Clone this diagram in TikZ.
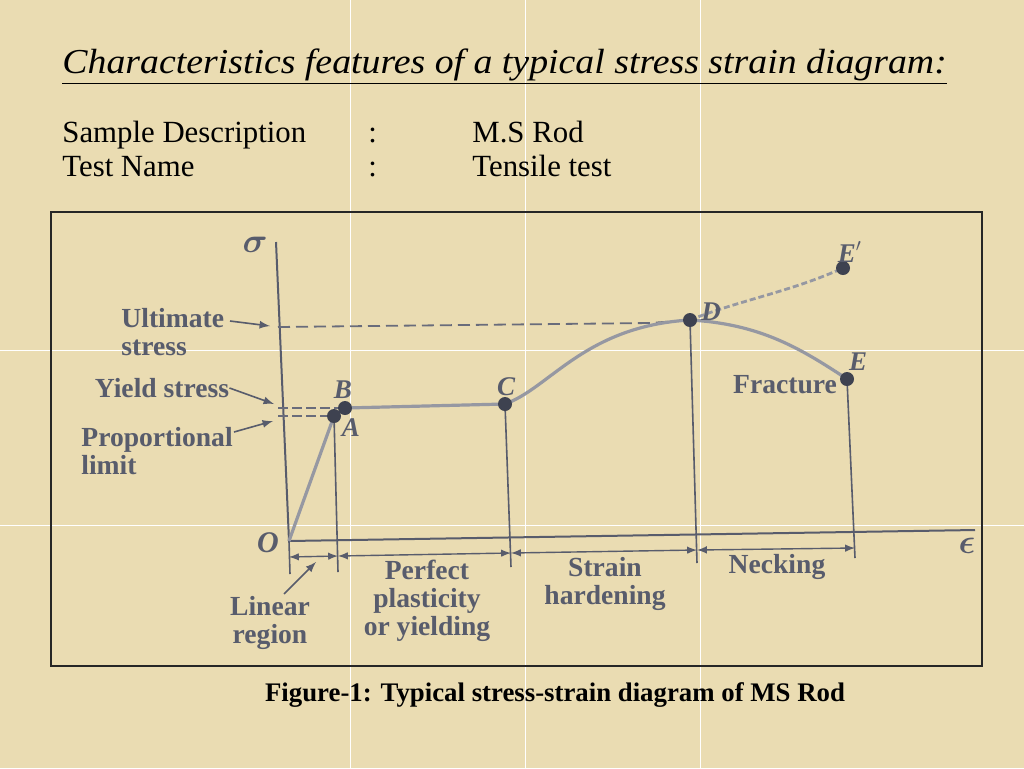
\documentclass[tikz,border=0pt]{standalone}
\usepackage{fontspec}
\setmainfont{Liberation Serif}
\usetikzlibrary{calc}

\definecolor{paper}{RGB}{234,220,178}
\definecolor{ink}{RGB}{88,92,108}
\definecolor{curvegray}{RGB}{150,152,162}
\definecolor{dotdark}{RGB}{62,66,80}

\tikzset{
  lbl/.style={font=\bfseries\fontsize{13.8}{14}\selectfont, text=ink, inner sep=0pt},
  pname/.style={font=\bfseries\itshape\fontsize{13.5}{13.5}\selectfont, text=ink, inner sep=0pt},
  pt/.style={circle, fill=dotdark, inner sep=0pt, minimum size=7pt},
  txt/.style={font=\fontsize{15.4}{15.4}\selectfont, anchor=base west, inner sep=0pt},
}

\begin{document}
\begin{tikzpicture}[x=0.5pt, y=-0.5pt]
    \useasboundingbox (0,0) rectangle (1024,768);
    % Paper
    \fill[paper] (0,0) rectangle (1024,768);
    \foreach \gx in {350,525,700} \draw[white, line width=0.4pt] (\gx,0) -- (\gx,768);
    \foreach \gy in {350,525} \draw[white, line width=0.4pt] (0,\gy) -- (1024,\gy);

    % Heading
    \node[txt, font=\itshape\fontsize{17.5}{17.5}\selectfont] (title) at (62,73) {\scalebox{1.08}[1]{\underline{Characteristics features of a typical stress strain diagram:}}};
    \node[txt] (sd) at (62,142) {Sample Description};
    \node[txt] (sdc) at (368,142) {:};
    \node[txt] (sdv) at (472,142) {M.S Rod};
    \node[txt] (tn) at (62,176) {Test Name};
    \node[txt] (tnc) at (368,176) {:};
    \node[txt] (tnv) at (472,176) {Tensile test};

    % Frame
    \draw[black!85, line width=0.9pt] (51,212) rectangle (982,666);

    % Axes
    \coordinate (O) at (289,541);
    \coordinate (sigtop) at (276,242);
    \coordinate (epsend) at (975,530);
    \draw[ink, line width=1pt] (sigtop) -- (O) -- (epsend);
    \node[pname, font=\boldmath\fontsize{17}{17}\selectfont] (sig) at (255,245) {$\sigma$};
    \node[pname, font=\boldmath\fontsize{17}{17}\selectfont] (eps) at (967,546) {$\epsilon$};
    \node[pname, font=\bfseries\itshape\fontsize{15}{15}\selectfont] (Olbl) at (268,543) {O};

    % Points of the curve
    \coordinate (A) at (334,416);
    \coordinate (B) at (345,408);
    \coordinate (C) at (505,404);
    \coordinate (D) at (690,320);
    \coordinate (Ep) at (843,268);
    \coordinate (E) at (847,379);

    % Dashed stress levels
    \draw[ink!90, line width=0.9pt, dash pattern=on 6pt off 3pt] (278,327) -- (650,323) -- (D);
    \draw[ink!90, line width=0.8pt, dash pattern=on 5pt off 2pt] (278,408) -- (B);
    \draw[ink!90, line width=0.8pt, dash pattern=on 5pt off 2pt] (278,416) -- (A);

    % Verticals down to the strain axis
    \draw[ink, line width=0.8pt] (O) -- (290,574);
    \draw[ink, line width=0.8pt] (A) -- (338,572);
    \draw[ink, line width=0.8pt] (C) -- (511,567);
    \draw[ink, line width=0.8pt] (D) -- (697,563);
    \draw[ink, line width=0.8pt] (E) -- (855,558);

    % Stress strain curve
    \draw[curvegray, line width=1.6pt] (O) -- (A) -- (B) -- (C)
        .. controls (550,388) and (585,326) .. (D)
        .. controls (760,324) and (800,348) .. (E);
    \draw[curvegray, line width=1.4pt, dash pattern=on 3pt off 1.5pt] (D) .. controls (740,300) and (790,292) .. (Ep);

    \foreach \p in {A,B,C,D,Ep,E} \node[pt] (dot\p) at (\p) {};

    \node[pname] (Alb) at (351,428) {A};
    \node[pname] (Blb) at (343,390) {B};
    \node[pname] (Clb) at (506,387) {C};
    \node[pname] (Dlb) at (711,312) {D};
    \node[pname] (Eplb) at (850,252) {E$'$};
    \node[pname] (Elb) at (858,362) {E};
    \node[lbl] (frac) at (785,385) {Fracture};

    % Region spans
    \coordinate (s0) at (289,557);
    \coordinate (s1) at (338,556);
    \coordinate (s2) at (511,553);
    \coordinate (s3) at (697,550);
    \coordinate (s4) at (855,548);
    \draw[ink, line width=0.7pt, latex-latex] (s0) -- (s1);
    \draw[ink, line width=0.7pt, latex-latex] (s1) -- (s2);
    \draw[ink, line width=0.7pt, latex-latex] (s2) -- (s3);
    \draw[ink, line width=0.7pt, latex-latex] (s3) -- (s4);

    \node[lbl, align=center] (lin) at (270,623) {Linear\\region};
    \node[lbl, align=center] (perf) at (427,601) {Perfect\\plasticity\\or yielding};
    \node[lbl, align=center] (hard) at (605,584) {Strain\\hardening};
    \node[lbl] (neck) at (777,567) {Necking};
    \coordinate (linhead) at (316,562);
    \draw[ink, line width=0.8pt, -latex] (lin.north) ++(14,-2) -- (linhead);

    % Stress labels on the left
    \node[lbl, align=left, anchor=north west] (ult) at (121,308) {Ultimate\\stress};
    \node[lbl] (yld) at (162,388) {Yield stress};
    \node[lbl, align=left, anchor=north west] (prop) at (81,427) {Proportional\\limit};
    \coordinate (ulttail) at (230,321);
    \coordinate (ulthead) at (270,326);
    \coordinate (yldhead) at (274,404);
    \coordinate (prophead) at (273,421);
    \coordinate (proptail) at (234,432);
    \draw[ink, line width=0.8pt, -latex] (ulttail) -- (ulthead);
    \draw[ink, line width=0.8pt, -latex] (yld.east) -- (yldhead);
    \draw[ink, line width=0.8pt, -latex] (proptail) -- (prophead);

    % Caption
    \node[font=\bfseries\fontsize{13.4}{13.4}\selectfont, inner sep=0pt] (cap) at (555,695) {Figure-1: Typical stress-strain diagram of MS Rod};
\end{tikzpicture}
\end{document}
